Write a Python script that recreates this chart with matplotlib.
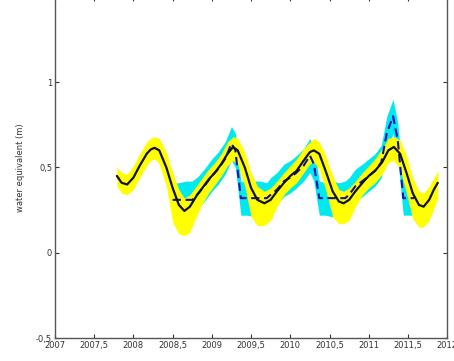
import matplotlib
matplotlib.use("Agg")
import matplotlib.pyplot as plt
from matplotlib.ticker import FuncFormatter

# Model (black) with yellow uncertainty band
t_model = [2007.79, 2007.85, 2007.92, 2008.00, 2008.08, 2008.17, 2008.22, 2008.27, 2008.33, 2008.42, 2008.50,
           2008.58, 2008.65, 2008.72, 2008.80, 2008.88, 2008.96, 2009.04, 2009.12, 2009.20, 2009.27,
           2009.33, 2009.42, 2009.50, 2009.58, 2009.67, 2009.75, 2009.83, 2009.92, 2010.00, 2010.08,
           2010.17, 2010.25, 2010.30, 2010.37, 2010.45, 2010.54, 2010.62, 2010.68, 2010.75, 2010.83,
           2010.92, 2011.00, 2011.08, 2011.17, 2011.25, 2011.32, 2011.40, 2011.48, 2011.56, 2011.64,
           2011.70, 2011.77, 2011.83, 2011.88]
model = [0.45, 0.41, 0.40, 0.44, 0.51, 0.58, 0.605, 0.615, 0.60, 0.50, 0.38,
         0.28, 0.245, 0.27, 0.33, 0.38, 0.43, 0.47, 0.52, 0.58, 0.62,
         0.60, 0.50, 0.38, 0.31, 0.29, 0.31, 0.36, 0.41, 0.45, 0.48,
         0.54, 0.59, 0.60, 0.58, 0.48, 0.36, 0.30, 0.29, 0.31, 0.36,
         0.41, 0.45, 0.48, 0.53, 0.60, 0.62, 0.58, 0.47, 0.35, 0.28,
         0.27, 0.31, 0.37, 0.41]
model_lo = [0.39, 0.35, 0.34, 0.37, 0.44, 0.51, 0.54, 0.55, 0.52, 0.39, 0.18,
            0.11, 0.10, 0.12, 0.21, 0.29, 0.35, 0.40, 0.45, 0.51, 0.54,
            0.52, 0.39, 0.21, 0.16, 0.16, 0.19, 0.27, 0.34, 0.38, 0.41,
            0.47, 0.52, 0.53, 0.49, 0.37, 0.21, 0.17, 0.17, 0.19, 0.27,
            0.34, 0.38, 0.41, 0.46, 0.53, 0.54, 0.49, 0.35, 0.20, 0.15,
            0.15, 0.19, 0.26, 0.32]
model_hi = [0.50, 0.47, 0.46, 0.51, 0.58, 0.65, 0.67, 0.68, 0.67, 0.59, 0.47,
            0.37, 0.32, 0.34, 0.39, 0.44, 0.49, 0.53, 0.58, 0.65, 0.68,
            0.67, 0.59, 0.47, 0.39, 0.36, 0.38, 0.42, 0.47, 0.51, 0.55,
            0.61, 0.65, 0.67, 0.65, 0.57, 0.45, 0.37, 0.36, 0.38, 0.42,
            0.47, 0.51, 0.55, 0.61, 0.67, 0.68, 0.66, 0.57, 0.44, 0.36,
            0.35, 0.39, 0.44, 0.48]

# Observation (blue dashed) with cyan uncertainty band
t_obs = [2008.50, 2008.58, 2008.67, 2008.75, 2008.83, 2008.92, 2009.00, 2009.08, 2009.17, 2009.25,
         2009.30, 2009.37, 2009.45, 2009.54, 2009.62, 2009.70, 2009.75, 2009.83, 2009.92, 2010.00,
         2010.08, 2010.17, 2010.25, 2010.30, 2010.37, 2010.45, 2010.54, 2010.62, 2010.70, 2010.75,
         2010.83, 2010.92, 2011.00, 2011.08, 2011.16, 2011.23, 2011.31, 2011.37, 2011.44, 2011.50,
         2011.58]
obs = [0.31, 0.31, 0.31, 0.31, 0.35, 0.40, 0.45, 0.49, 0.55, 0.64,
       0.60, 0.32, 0.32, 0.32, 0.32, 0.32, 0.34, 0.37, 0.42, 0.44,
       0.47, 0.51, 0.57, 0.52, 0.32, 0.32, 0.32, 0.32, 0.32, 0.34,
       0.39, 0.42, 0.45, 0.48, 0.53, 0.70, 0.80, 0.66, 0.32, 0.32,
       0.32]
obs_lo = [0.21, 0.21, 0.22, 0.21, 0.26, 0.31, 0.36, 0.40, 0.46, 0.54,
          0.50, 0.22, 0.22, 0.21, 0.22, 0.22, 0.25, 0.28, 0.33, 0.35,
          0.38, 0.42, 0.47, 0.42, 0.22, 0.22, 0.21, 0.22, 0.22, 0.25,
          0.30, 0.33, 0.36, 0.39, 0.44, 0.60, 0.70, 0.56, 0.22, 0.22,
          0.22]
obs_hi = [0.41, 0.41, 0.42, 0.42, 0.45, 0.50, 0.55, 0.59, 0.65, 0.74,
          0.70, 0.42, 0.41, 0.42, 0.42, 0.41, 0.44, 0.47, 0.52, 0.54,
          0.57, 0.61, 0.67, 0.62, 0.42, 0.41, 0.42, 0.41, 0.42, 0.44,
          0.49, 0.52, 0.55, 0.58, 0.63, 0.80, 0.90, 0.76, 0.42, 0.42,
          0.42]

x_ticks = [2007, 2007.5, 2008, 2008.5, 2009, 2009.5, 2010, 2010.5, 2011, 2011.5, 2012]
y_ticks = [-0.5, 0, 0.5, 1]
y_label = "water equivalent (m)"

fig = plt.figure(figsize=(4.54, 3.61), dpi=100)
ax = fig.add_axes([0.121, 0.0637, 0.864, 0.945])

ax.fill_between(t_obs, obs_lo, obs_hi, color="#00e8f0", linewidth=0, zorder=1)
ax.fill_between(t_model, model_lo, model_hi, color="#ffff00", linewidth=0, zorder=2)
ax.plot(t_obs, obs, color="#1010b0", linestyle=(0, (4, 2.2)), linewidth=1.5, zorder=3)
ax.plot(t_model, model, color="#111111", linewidth=1.6, zorder=4,
        solid_joinstyle="round", solid_capstyle="round")

ax.set_xlim(2007, 2012)
ax.set_ylim(-0.5, 1.5)
ax.set_xticks(x_ticks)
ax.set_yticks(y_ticks)

def fmt(v, pos):
    return ("%g" % v).replace(".", ",")
ax.xaxis.set_major_formatter(FuncFormatter(fmt))
ax.yaxis.set_major_formatter(FuncFormatter(fmt))

ax.tick_params(direction="in", length=3, width=0.8, labelsize=6, colors="#333333",
               top=True, right=True, pad=2)
for s in ax.spines.values():
    s.set_color("#555555")
    s.set_linewidth(1.0)

ax.set_ylabel(y_label, fontsize=6, color="#333333", labelpad=8)

fig.savefig("out.png", dpi=100)
